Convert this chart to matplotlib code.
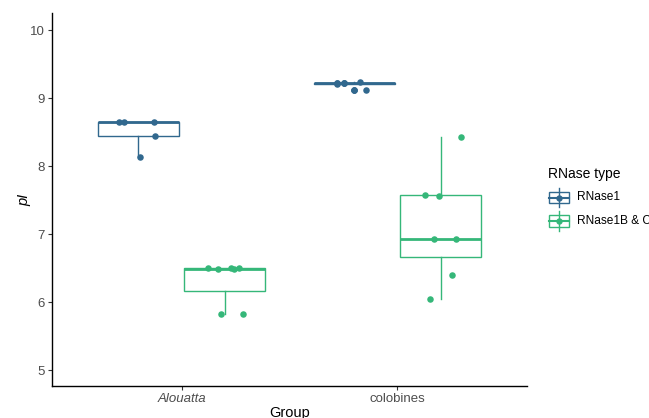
import numpy as np
import matplotlib.pyplot as plt
from matplotlib.patches import Rectangle
from matplotlib.lines import Line2D

plt.rcParams['font.family'] = ['Liberation Sans', 'DejaVu Sans']

groups = ['Alouatta', 'colobines']
types = ['RNase1', 'RNase1B & C']
colors = ['#31688E', '#35B779']

# pI values per group / RNase type
alouatta_r1 = [8.65, 8.65, 8.65, 8.44, 8.13]
alouatta_r1bc = [6.50, 6.49, 6.50, 6.49, 6.50, 5.82, 5.82]
colob_r1 = [9.21, 9.22, 9.23, 9.22, 9.22, 9.22, 9.22, 9.12, 9.12]
colob_r1bc = [8.43, 7.58, 7.555, 6.93, 6.93, 6.40, 6.04]

# horizontal jitter offsets (x units) for the points
jit_a1 = [-0.088, -0.067, 0.074, 0.076, 0.007]
jit_a2 = [-0.078, -0.030, 0.030, 0.043, 0.066, -0.016, 0.086]
jit_c1 = [-0.082, -0.047, 0.025, -0.082, -0.047, -0.047, -0.082, -0.002, 0.053]
jit_c2 = [0.093, -0.072, -0.009, -0.030, 0.070, 0.054, -0.051]

data = [[alouatta_r1, alouatta_r1bc], [colob_r1, colob_r1bc]]
jits = [[jit_a1, jit_a2], [jit_c1, jit_c2]]

W, H = 649, 418
fig = plt.figure(figsize=(W / 100, H / 100), dpi=100)
ax = fig.add_axes([52 / W, 1 - 386 / H, 475 / W, 373 / H])

dodge = 0.2
for gi, g in enumerate(groups):
    for ti in range(2):
        vals = data[gi][ti]
        pos = gi + 1 + (ti * 2 - 1) * dodge
        c = colors[ti]
        ax.boxplot([vals], positions=[pos], widths=0.375, whis=1.5,
                   patch_artist=True, showcaps=False, manage_ticks=False,
                   boxprops=dict(facecolor='white', edgecolor=c, linewidth=1.0),
                   whiskerprops=dict(color=c, linewidth=1.0),
                   medianprops=dict(color=c, linewidth=2.0),
                   flierprops=dict(marker='o', markerfacecolor=c, markeredgecolor=c,
                                   markersize=4.6, markeredgewidth=0))
        ax.scatter(pos + np.array(jits[gi][ti]), vals, s=22, color=c, zorder=5,
                   linewidths=0)

ax.set_xlim(0.4, 2.6)
ax.set_ylim(4.765, 10.25)
ax.set_xticks([1, 2])
ax.set_xticklabels(groups, fontsize=9.5, color='#4D4D4D')
ax.get_xticklabels()[0].set_style('italic')
ax.set_yticks([5, 6, 7, 8, 9, 10])
ax.tick_params(axis='y', labelsize=9.5, labelcolor='#4D4D4D', length=3, width=0.8,
               color='#333333', pad=2)
ax.tick_params(axis='x', length=3, width=0.8, color='#333333', pad=2)
for s in ['top', 'right']:
    ax.spines[s].set_visible(False)
for s in ['left', 'bottom']:
    ax.spines[s].set_linewidth(1.0)
ax.set_xlabel('Group', fontsize=10.5, labelpad=1)
ax.set_ylabel('pI', fontsize=10.5, style='italic', labelpad=-1)

# legend
def fx(x):
    return x / W

def fy(y):
    return 1 - y / H

fig.text(fx(548), fy(174), 'RNase type', fontsize=10, va='center', ha='left')
for ti, (lab, yc) in enumerate(zip(types, [197.5, 221])):
    c = colors[ti]
    fig.add_artist(Line2D([fx(559), fx(559)], [fy(yc - 9.7), fy(yc + 9.7)],
                          transform=fig.transFigure, color=c, lw=1.0))
    fig.add_artist(Rectangle((fx(549), fy(yc + 5.8)), fx(20), 11.6 / H,
                             transform=fig.transFigure, facecolor='white',
                             edgecolor=c, lw=1.0))
    fig.add_artist(Line2D([fx(549), fx(569)], [fy(yc), fy(yc)],
                          transform=fig.transFigure, color=c, lw=1.5))
    fig.add_artist(Line2D([fx(559)], [fy(yc)], transform=fig.transFigure,
                          marker='o', color=c, markersize=4.6, markeredgewidth=0, lw=0))
    fig.text(fx(577), fy(yc), lab, fontsize=8.6, va='center', ha='left')

fig.savefig('out.png', dpi=100)
